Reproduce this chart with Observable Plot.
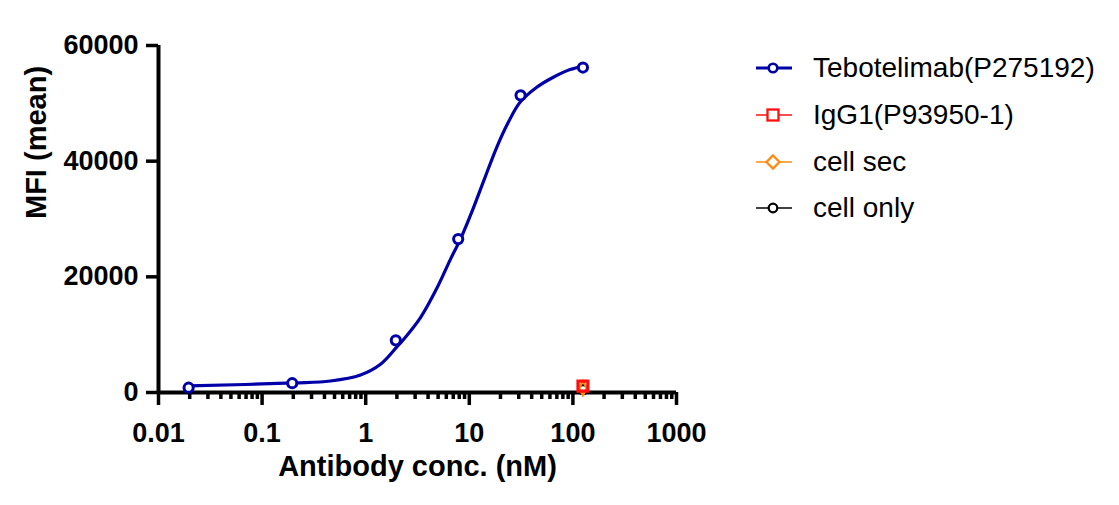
<!DOCTYPE html>
<html><head><meta charset="utf-8">
<script src="https://cdn.jsdelivr.net/npm/d3@7"></script>
<script src="https://cdn.jsdelivr.net/npm/@observablehq/plot@0.6"></script>
<style>
html,body{margin:0;padding:0;background:#fff;}
body{font-family:"Liberation Sans",Arial,sans-serif;}
#wrap{position:relative;width:1119px;height:505px;overflow:hidden;}
#legend{position:absolute;left:755px;top:45px;}
.item{display:flex;align-items:center;height:46.7px;font-size:28px;color:#000;white-space:nowrap;}
.item svg{margin-right:20px;flex:none;}
</style></head>
<body><div id="wrap"><div id="chart"></div><div id="legend"></div></div>
<script>
// ---- data ----
const concentrations = [0.01953, 0.1953, 1.953, 7.8125, 31.25, 125];
const tebotelimabMFI = [830, 1610, 9020, 26530, 51380, 56190];
// fitted curve, points
const fitConc = [0.01953, 0.202, 0.457, 0.891, 1.39, 2.01, 2.33, 3.38, 4.90, 6.59, 8.22, 10.7, 13.8, 18.4, 23.8, 30.9, 44.8, 64.7, 94.0, 125];
const fitMFI  = [1130, 1650, 1990, 3030, 4880, 7930, 9210, 12950, 18150, 23070, 26530, 31440, 36630, 42400, 46720, 50180, 52780, 54510, 55840, 56400];
const controlConc = [125];
const igg1MFI = [1100];
const cellSecMFI = [750];
const cellOnlyMFI = [500];
const seriesNames = ["Tebotelimab(P275192)", "IgG1(P93950-1)", "cell sec", "cell only"];
const seriesColors = ["#0000a8", "#ff1010", "#ff8a10", "#000000"];
const xMajorTicks = [0.01, 0.1, 1, 10, 100, 1000];
const yTicks = [0, 20000, 40000, 60000];
const xTitle = "Antibody conc. (nM)";
const yTitle = "MFI (mean)";

const xMinorTicks = [];
for (let i = 0; i < xMajorTicks.length - 1; i++)
  for (let k = 2; k <= 9; k++) xMinorTicks.push(+(xMajorTicks[i] * k).toPrecision(3));

const teb = concentrations.map((c, i) => ({c, v: tebotelimabMFI[i]}));
const fit = fitConc.map((c, i) => ({c, v: fitMFI[i]}));
const ctrl = (vals) => controlConc.map((c, i) => ({c, v: vals[i]}));

const font = "Liberation Sans, Arial, sans-serif";
const chart = Plot.plot({
  width: 1119, height: 505,
  marginLeft: 158, marginRight: 443, marginTop: 45, marginBottom: 113,
  style: {fontFamily: font, color: "#000", background: "#fff", overflow: "visible"},
  x: {type: "log", domain: [0.01, 1000]},
  y: {domain: [0, 60000]},
  marks: [
    Plot.axisY({ticks: yTicks, tickSize: 12, tickPadding: 8, strokeWidth: 3.5, fontSize: 27, fontWeight: "bold", tickFormat: d => String(d), label: null}),
    Plot.axisX({ticks: xMinorTicks, tickSize: 7, strokeWidth: 3.5, tickFormat: () => "", label: null}),
    Plot.axisX({ticks: xMajorTicks, tickSize: 13, tickPadding: 17, strokeWidth: 3.5, fontSize: 27, fontWeight: "bold", tickFormat: d => String(d), label: null}),
    Plot.ruleX([0.01], {y1: 0, y2: 60000, strokeWidth: 4, stroke: "#000"}),
    Plot.ruleY([0], {x1: 0.01, x2: 1000, strokeWidth: 4, stroke: "#000"}),
    Plot.text([xTitle], {frameAnchor: "bottom", dy: 74, fontSize: 29, fontWeight: "bold", fill: "#000", lineAnchor: "middle"}),
    Plot.text([yTitle], {frameAnchor: "left", dx: -122, rotate: -90, fontSize: 29, fontWeight: "bold", fill: "#000", lineAnchor: "middle"}),
    Plot.line(fit, {x: "c", y: "v", stroke: seriesColors[0], strokeWidth: 3.2, curve: "catmull-rom"}),
    Plot.dot(teb, {x: "c", y: "v", r: 4.6, stroke: seriesColors[0], strokeWidth: 3, fill: "#fff"}),
    Plot.dot(ctrl(cellOnlyMFI), {x: "c", y: "v", r: 4.5, stroke: seriesColors[3], strokeWidth: 2.5, fill: "none"}),
    Plot.dot(ctrl(cellSecMFI), {x: "c", y: "v", symbol: "diamond", r: 4.2, stroke: seriesColors[2], strokeWidth: 2.5, fill: "none"}),
    Plot.dot(ctrl(igg1MFI), {x: "c", y: "v", symbol: "square", r: 5.6, stroke: seriesColors[1], strokeWidth: 3.2, fill: "none"})
  ]
});
document.getElementById("chart").appendChild(chart);

// legend
const markerSvg = [
  (c) => `<circle cx="18" cy="12" r="4.3" fill="#fff" stroke="${c}" stroke-width="2.6"/>`,
  (c) => `<rect x="12.5" y="6.5" width="11" height="11" fill="#fff" stroke="${c}" stroke-width="2.3"/>`,
  (c) => `<path d="M18 5.5 L24.5 12 L18 18.5 L11.5 12 Z" fill="#fff" stroke="${c}" stroke-width="2.3"/>`,
  (c) => `<circle cx="18" cy="12" r="4.3" fill="#fff" stroke="${c}" stroke-width="2.3"/>`
];
const lineWidths = [3, 1.7, 1.7, 1.7];
const legend = document.getElementById("legend");
seriesNames.forEach((name, i) => {
  const div = document.createElement("div");
  div.className = "item";
  div.innerHTML = `<svg width="38" height="24"><line x1="1" x2="37" y1="12" y2="12" stroke="${seriesColors[i]}" stroke-width="${lineWidths[i]}"/>${markerSvg[i](seriesColors[i])}</svg><span>${name}</span>`;
  legend.appendChild(div);
});
</script></body></html>
